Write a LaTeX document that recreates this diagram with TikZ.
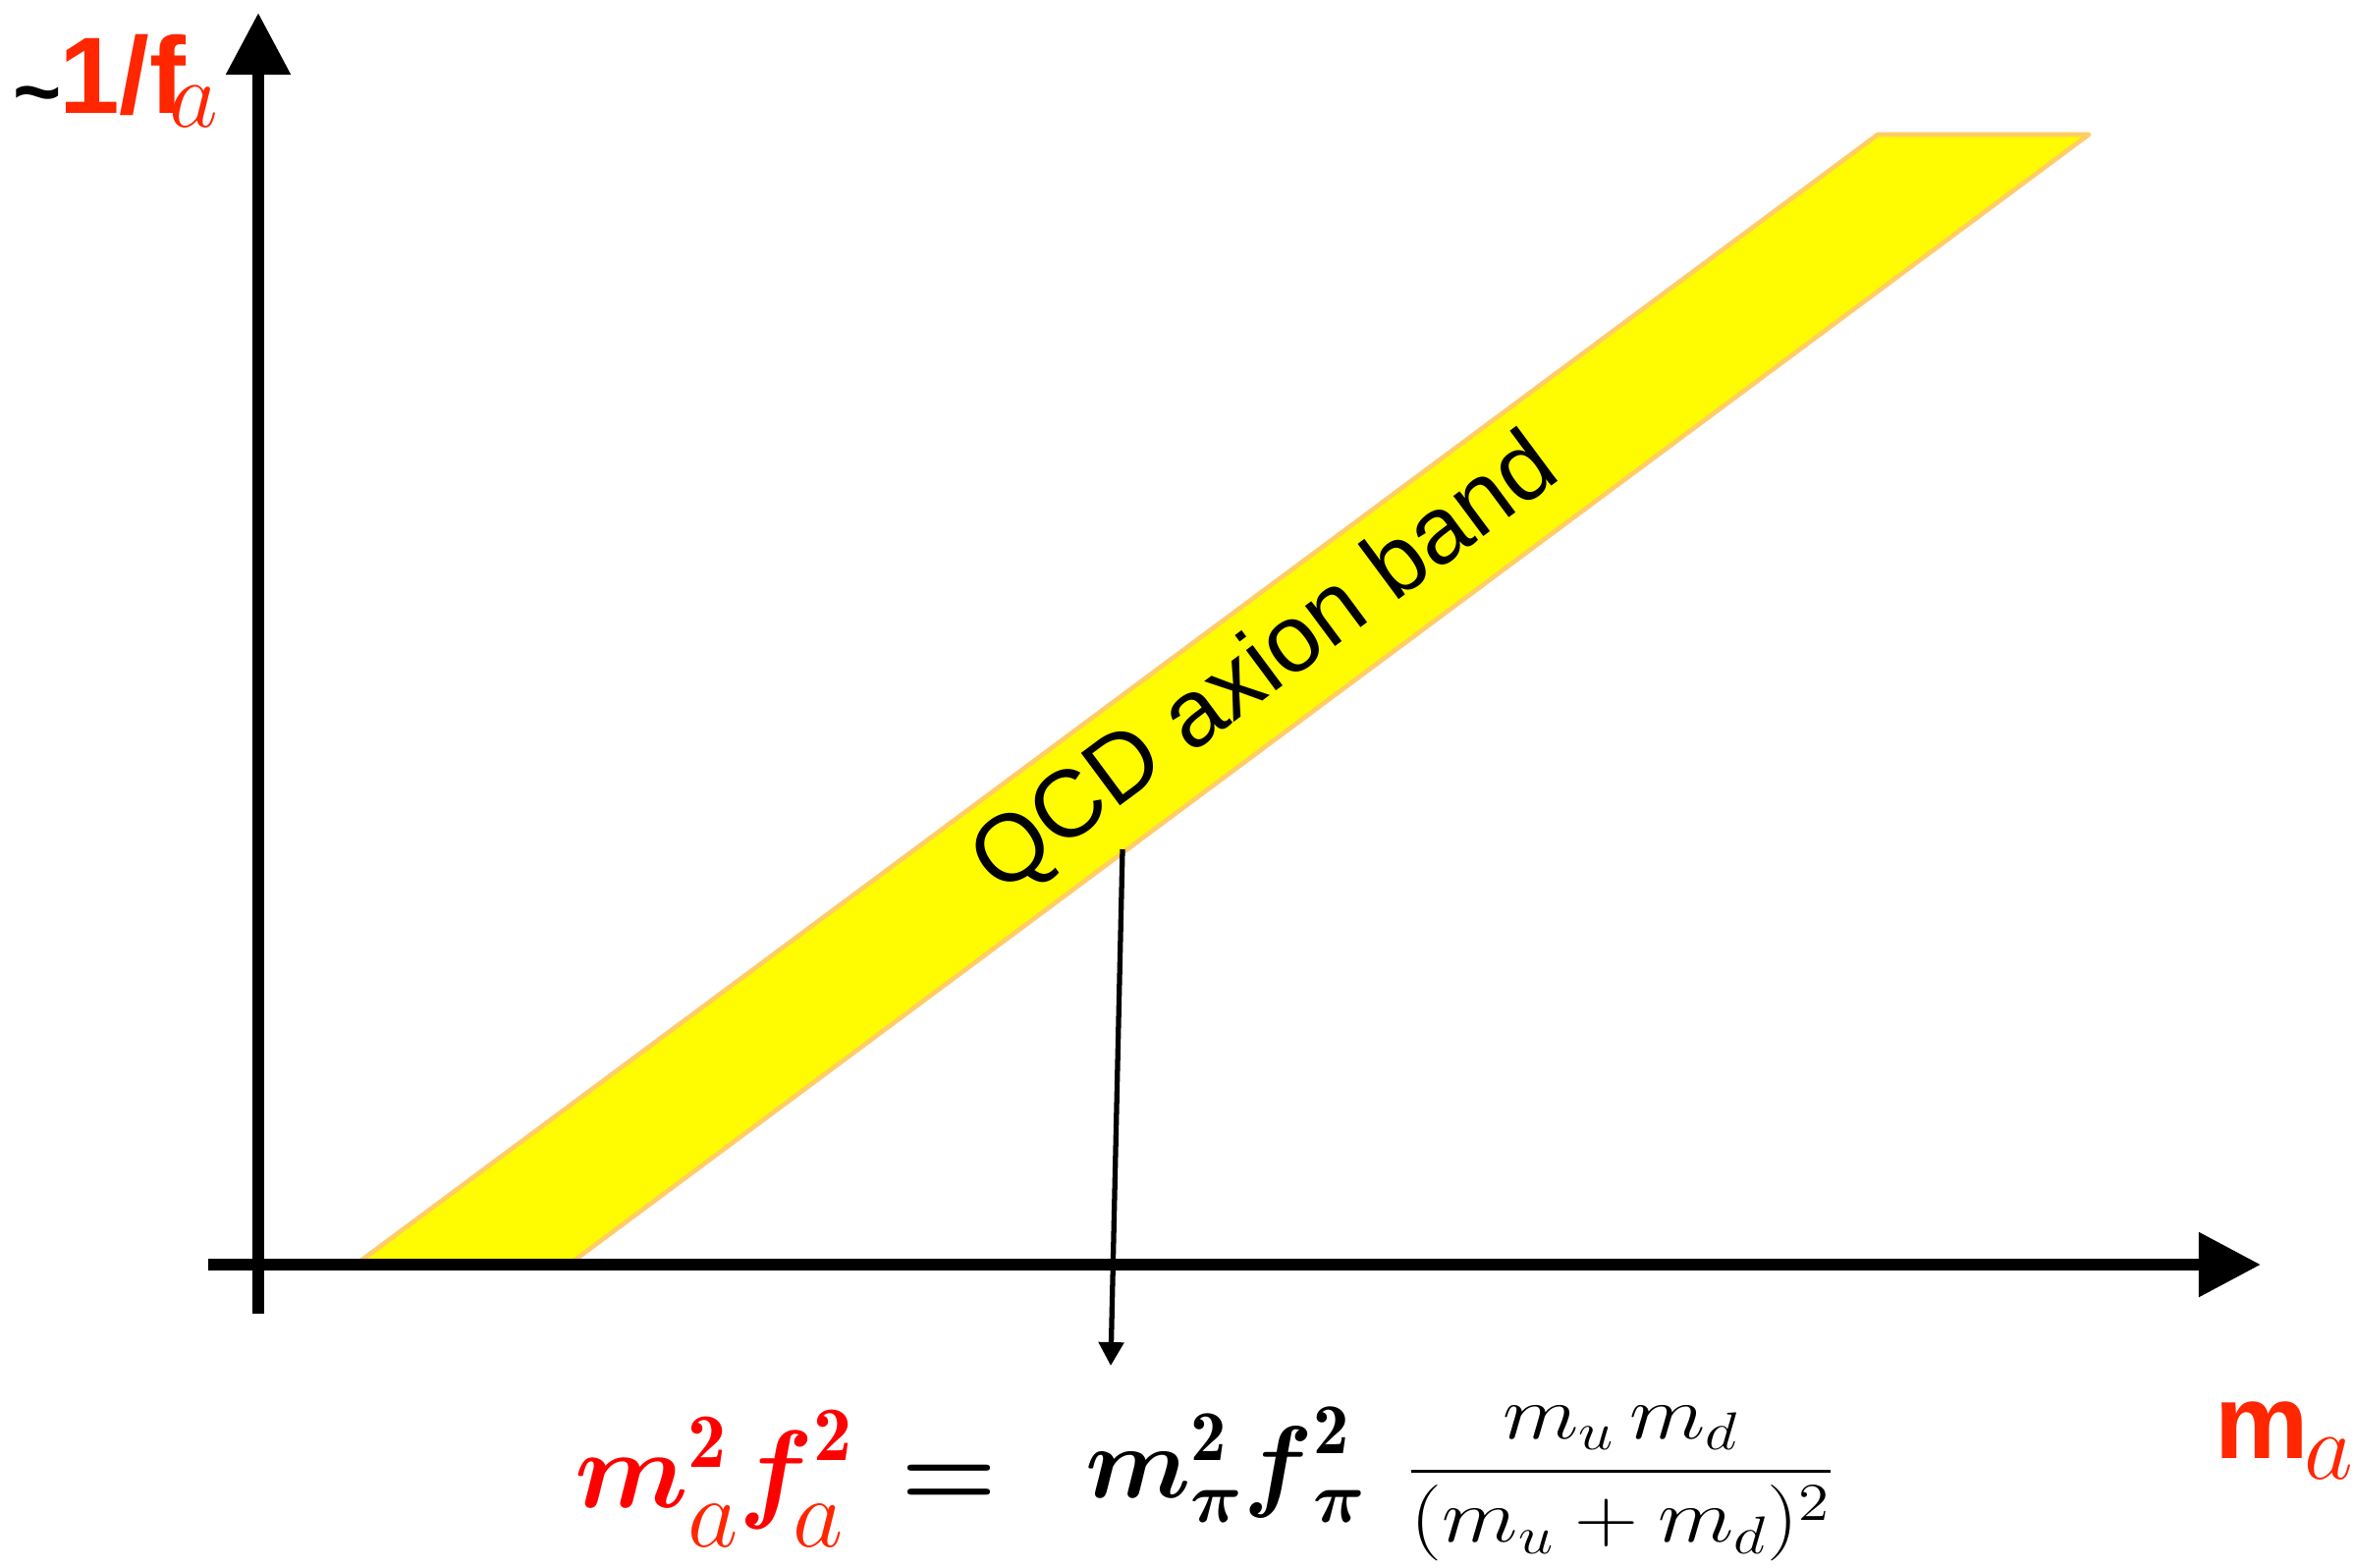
\RequirePackage{fix-cm}
\documentclass[tikz,border=0pt]{standalone}
\usepackage{amsmath}
\usepackage{graphicx}
\usepackage{fontspec}
\newfontfamily\arial{Liberation Sans}
\usetikzlibrary{arrows.meta}
\definecolor{axred}{RGB}{255,38,0}
\definecolor{pured}{RGB}{255,0,0}
\definecolor{bandfill}{RGB}{255,251,0}
\definecolor{bandedge}{RGB}{255,204,102}
\begin{document}
\begin{tikzpicture}[x=0.01cm,y=-0.01cm,
  axis/.style={line width=3.4pt,-{Triangle[width=0.63cm,length=0.63cm]}},
  pointer/.style={line width=1.5pt,-{Triangle[width=0.25cm,length=0.24cm]}},
  band/.style={fill=bandfill,draw=bandedge,line width=1.3pt,line join=round},
  lbl/.style={inner sep=0pt,outer sep=0pt},
  bigm/.style={lbl,anchor=base west,font=\fontsize{31.9pt}{34pt}\selectfont},
  blkm/.style={lbl,anchor=base west,font=\fontsize{29.6pt}{32pt}\selectfont},
  suba/.style={lbl,anchor=base west,text=axred,font=\fontsize{28.4pt}{30pt}\selectfont}]
\useasboundingbox (0,0) rectangle (2397,1596);
% band
\path[band] (362,1288) -- (1912,137) -- (2127,137) -- (579,1288) -- cycle;
\node[lbl,rotate=36.6,anchor=base,font=\arial\fontsize{27.5pt}{30pt}\selectfont] (bandlabel) at (1305,699) {QCD axion band};
% axes
\coordinate (yb) at (263,1338);
\coordinate (yt) at (263,13);
\coordinate (xl) at (212,1288);
\coordinate (xr) at (2302,1288);
\draw[axis] (yb) -- (yt);
\draw[axis] (xl) -- (xr);
% pointer
\coordinate (ps) at (1143,865);
\coordinate (pe) at (1131,1391);
\draw[pointer] (ps) -- (pe);
% axis labels
\node[lbl,anchor=base west] (ylab) at (13,115) {\raisebox{-2pt}{\arial\bfseries\fontsize{24pt}{24pt}\selectfont\textasciitilde}\kern-0.6pt{\color{axred}\arial\bfseries\fontsize{31.5pt}{33pt}\selectfont 1/f}\kern-4.8pt\raisebox{-4pt}{\color{axred}\fontsize{27.5pt}{30pt}\selectfont$a$}};
\node[lbl,anchor=base west] (xlab) at (2255,1485) {{\color{axred}\arial\bfseries\fontsize{30.5pt}{32pt}\selectfont m}\kern-1pt\raisebox{-6pt}{\color{axred}\fontsize{27.5pt}{30pt}\selectfont$a$}};
% formula, left side
\node[bigm,text=pured] (lhsm) at (585,1535) {$\boldsymbol{m}^{\mathbf{2}}$};
\node[suba] (lhsma) at (700,1575) {$a$};
\node[bigm,text=pured] (lhsf) at (752,1535) {$\boldsymbol{f}^{\mathbf{2}}$};
\node[suba] (lhsfa) at (807,1575) {$a$};
\node[bigm] (eq) at (917,1535) {$\boldsymbol{=}$};
% formula, right side
\node[blkm] (rhs) at (1105,1525) {$\boldsymbol{m}^{\mathbf{2}}_{\boldsymbol{\pi}}\boldsymbol{f}^{\mathbf{2}}_{\boldsymbol{\pi}}$};
\node[lbl,anchor=base west,font=\fontsize{22pt}{26pt}\selectfont] (frac) at (1432,1517.5) {\scalebox{1.165}[1]{$\displaystyle\frac{m_u\,m_d}{(m_u+m_d)^2}$}};
\end{tikzpicture}
\end{document}
